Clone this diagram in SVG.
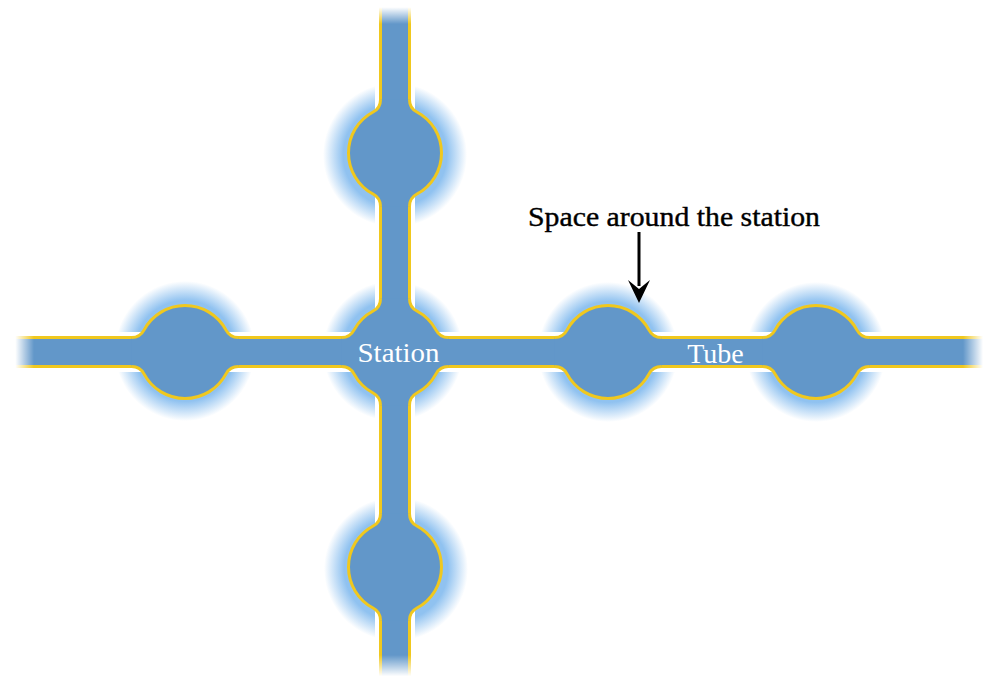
<svg xmlns="http://www.w3.org/2000/svg" width="983" height="680" viewBox="0 0 983 680">
<style>
.halo{fill:url(#haloGrad)}
.wline{stroke:#ffffff;stroke-width:40;fill:none}
.yline{stroke:#f0c81e;stroke-width:32;fill:none}
.bline{stroke:#6297c9;stroke-width:26;fill:none}
.bfill{fill:#6297c9;stroke:none}
.bedge{fill:none;stroke:#f0c81e;stroke-width:3}
.lbl{font-family:"Liberation Serif","Times New Roman",serif;font-size:28px}
.white{fill:#ffffff}
.heavy{stroke:#000000;stroke-width:0.4}
</style>
<defs>
<radialGradient id="haloGrad" cx="0.5" cy="0.5" r="0.5">
<stop offset="0" stop-color="#90c2f0"/>
<stop offset="0.72" stop-color="#90c2f0"/>
<stop offset="1" stop-color="#90c2f0" stop-opacity="0"/>
</radialGradient>
<linearGradient id="fadeL" x1="0" y1="0" x2="1" y2="0">
<stop offset="0" stop-color="#fff"/><stop offset="0.45" stop-color="#fff"/><stop offset="1" stop-color="#fff" stop-opacity="0"/>
</linearGradient>
<linearGradient id="fadeR" x1="1" y1="0" x2="0" y2="0">
<stop offset="0" stop-color="#fff"/><stop offset="0.2" stop-color="#fff" stop-opacity="0.8"/><stop offset="1" stop-color="#fff" stop-opacity="0"/>
</linearGradient>
<linearGradient id="fadeT" x1="0" y1="0" x2="0" y2="1">
<stop offset="0" stop-color="#fff"/><stop offset="0.3" stop-color="#fff"/><stop offset="1" stop-color="#fff" stop-opacity="0"/>
</linearGradient>
<linearGradient id="fadeB" x1="0" y1="1" x2="0" y2="0">
<stop offset="0" stop-color="#fff"/><stop offset="0.15" stop-color="#fff"/><stop offset="1" stop-color="#fff" stop-opacity="0"/>
</linearGradient>
<path id="bulbFill" d="M-53.37,-14.5 A14 14 0 0 0 -41.02,-21.9 A46.5 46.5 0 0 1 41.02,-21.9 A14 14 0 0 0 53.37,-14.5 L53.37,14.5 A14 14 0 0 0 41.02,21.9 A46.5 46.5 0 0 1 -41.02,21.9 A14 14 0 0 0 -53.37,14.5 Z"/>
<path id="bulbEdge" d="M-53.37,-14.5 A14 14 0 0 0 -41.02,-21.9 A46.5 46.5 0 0 1 41.02,-21.9 A14 14 0 0 0 53.37,-14.5 M-53.37,14.5 A14 14 0 0 1 -41.02,21.9 A46.5 46.5 0 0 0 41.02,21.9 A14 14 0 0 1 53.37,14.5"/>
<path id="junctionFill" d="M-14.5,-53.37 A14 14 0 0 1 -21.9,-41.02 A46.5 46.5 0 0 0 -41.02,-21.9 A14 14 0 0 1 -53.37,-14.5 L-53.37,14.5 A14 14 0 0 1 -41.02,21.9 A46.5 46.5 0 0 0 -21.9,41.02 A14 14 0 0 1 -14.5,53.37 L14.5,53.37 A14 14 0 0 1 21.9,41.02 A46.5 46.5 0 0 0 41.02,21.9 A14 14 0 0 1 53.37,14.5 L53.37,-14.5 A14 14 0 0 1 41.02,-21.9 A46.5 46.5 0 0 0 21.9,-41.02 A14 14 0 0 1 14.5,-53.37 Z"/>
<path id="junctionEdge" d="M-14.5,-53.37 A14 14 0 0 1 -21.9,-41.02 A46.5 46.5 0 0 0 -41.02,-21.9 A14 14 0 0 1 -53.37,-14.5 M-53.37,14.5 A14 14 0 0 1 -41.02,21.9 A46.5 46.5 0 0 0 -21.9,41.02 A14 14 0 0 1 -14.5,53.37 M14.5,53.37 A14 14 0 0 1 21.9,41.02 A46.5 46.5 0 0 0 41.02,21.9 A14 14 0 0 1 53.37,14.5 M53.37,-14.5 A14 14 0 0 1 41.02,-21.9 A46.5 46.5 0 0 0 21.9,-41.02 A14 14 0 0 1 14.5,-53.37"/>
</defs>
<rect width="983" height="680" fill="#ffffff"/>
<g id="halos">
<circle id="halo-top" class="halo" cx="395" cy="155" r="72"/>
<circle id="halo-left" class="halo" cx="185" cy="351" r="70"/>
<circle id="halo-center" class="halo" cx="393" cy="351" r="70"/>
<circle id="halo-right1" class="halo" cx="608" cy="352" r="70"/>
<circle id="halo-right2" class="halo" cx="816" cy="352" r="70"/>
<circle id="halo-bottom" class="halo" cx="396" cy="569" r="72"/>
</g>
<g id="connectors">
<line class="wline" x1="0" y1="352" x2="983" y2="352"/>
<line class="wline" x1="395" y1="0" x2="395" y2="680"/>
<line class="yline" x1="0" y1="352" x2="983" y2="352"/>
<line class="yline" x1="395" y1="0" x2="395" y2="680"/>
<line class="bline" x1="0" y1="352" x2="983" y2="352"/>
<line class="bline" x1="395" y1="0" x2="395" y2="680"/>
</g>
<g id="station-top" transform="translate(395,153) rotate(90)">
<use href="#bulbFill" class="bfill"/><use href="#bulbEdge" class="bedge"/>
</g>
<g id="station-left" transform="translate(185,352)">
<use href="#bulbFill" class="bfill"/><use href="#bulbEdge" class="bedge"/>
</g>
<g id="station-center" transform="translate(395,352)">
<use href="#junctionFill" class="bfill"/><use href="#junctionEdge" class="bedge"/>
</g>
<g id="station-right1" transform="translate(608,352)">
<use href="#bulbFill" class="bfill"/><use href="#bulbEdge" class="bedge"/>
</g>
<g id="station-right2" transform="translate(816,352)">
<use href="#bulbFill" class="bfill"/><use href="#bulbEdge" class="bedge"/>
</g>
<g id="station-bottom" transform="translate(395,567) rotate(90)">
<use href="#bulbFill" class="bfill"/><use href="#bulbEdge" class="bedge"/>
</g>
<g id="fades">
<rect x="0" y="320" width="34" height="64" fill="url(#fadeL)"/>
<rect x="963" y="320" width="20" height="64" fill="url(#fadeR)"/>
<rect x="365" y="0" width="60" height="24" fill="url(#fadeT)"/>
<rect x="365" y="655" width="60" height="25" fill="url(#fadeB)"/>
</g>
<g id="labels">
<text class="lbl white" x="398.5" y="362" text-anchor="middle" font-size="29" textLength="82" lengthAdjust="spacingAndGlyphs">Station</text>
<text class="lbl white" x="715.5" y="363" text-anchor="middle">Tube</text>
<text class="lbl heavy" x="528" y="226" fill="#000000" textLength="292" lengthAdjust="spacingAndGlyphs">Space around the station</text>
</g>
<g id="annotation-arrow">
<line x1="639" y1="232" x2="639" y2="286" stroke="#000000" stroke-width="3"/>
<path d="M639,303 L628,280 L639,289 L650,280 Z" fill="#000000"/>
</g>
</svg>
